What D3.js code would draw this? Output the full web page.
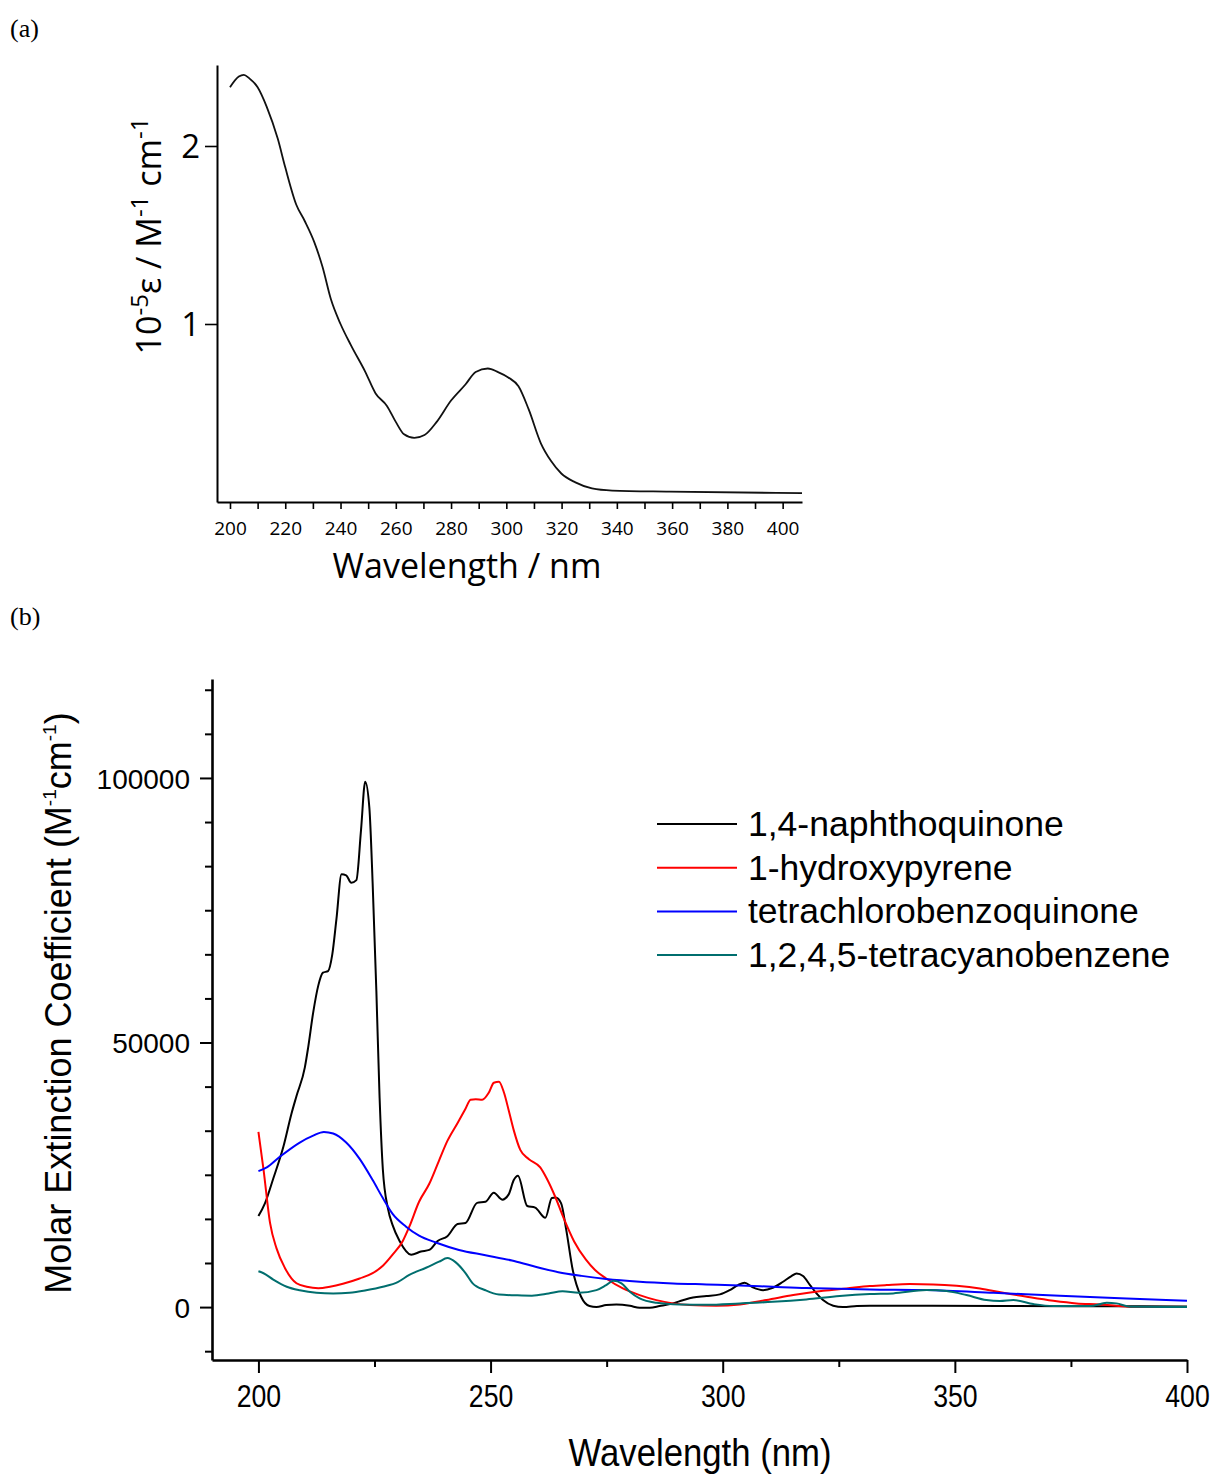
<!DOCTYPE html>
<html>
<head>
<meta charset="utf-8">
<script src="https://cdn.jsdelivr.net/npm/d3@7"></script>
<style>
  body { margin: 0; background: #fff; }
  svg { display: block; }
</style>
</head>
<body>
<svg id="chart"></svg>
<script>
// panel (a): single spectrum, 10^-5 epsilon
const wlA = [200, 203.2, 205, 207, 210, 213.3, 217.3, 220, 224, 227, 230.5, 233.5, 236.5, 240, 243.8, 249, 252.7, 256.8, 260, 263, 266.7, 270.4, 274.8, 280, 285.2, 288.9, 293.3, 297, 300.7, 304.4, 308.1, 312.5, 316.2, 319.9, 325, 331, 338.3, 359, 407];
const epsA = [2.33, 2.39, 2.40, 2.38, 2.33, 2.22, 2.04, 1.88, 1.67, 1.58, 1.46, 1.32, 1.14, 1.00, 0.88, 0.73, 0.61, 0.54, 0.45, 0.38, 0.36, 0.376, 0.45, 0.57, 0.66, 0.73, 0.75, 0.73, 0.70, 0.65, 0.52, 0.33, 0.23, 0.16, 0.11, 0.076, 0.064, 0.058, 0.05];

// panel (b): four spectra, molar extinction coefficient
const seriesNames = ["1,4-naphthoquinone", "1-hydroxypyrene", "tetrachlorobenzoquinone", "1,2,4,5-tetracyanobenzene"];
const seriesColors = ["#000000", "#ff0000", "#0000ff", "#006e6e"];

const wlNQ = [200, 201.4, 203.2, 205.4, 207.1, 208.2, 210, 210.7, 211.8, 212.9, 213.9, 215, 215.9, 216.8, 217.9, 218.9, 220, 221.1, 222.1, 223, 223.9, 224.6, 225.4, 226.1, 226.8, 227.9, 228.9, 230.4, 232.9, 235, 236.8, 238.6, 240.7, 242.9, 244.6, 247.1, 248.9, 250.7, 252.5, 253.9, 255, 255.9, 257.9, 259.6, 261.8, 263.2, 264, 265.2, 266.3, 267.7, 269.5, 271.3, 272.8, 274.9, 277.1, 280, 282.1, 284.3, 286.4, 289.3, 291.4, 293.6, 296.5, 299.4, 301.5, 303.3, 304.7, 306.5, 308.7, 310.8, 313, 314.8, 315.9, 317.3, 318.8, 320.2, 321.6, 323.8, 325.9, 328.9, 331.7, 345, 360, 375, 390, 400];
const epsNQ = [17200, 19600, 24300, 30400, 36500, 39900, 45300, 49000, 55700, 60800, 63200, 63500, 66600, 73300, 81800, 81600, 80200, 80700, 90200, 99300, 94300, 80100, 59800, 39500, 26000, 18600, 15500, 12500, 9900, 10500, 10800, 12500, 13400, 15700, 15900, 19700, 19900, 21600, 20300, 21300, 24000, 24800, 19100, 18800, 16900, 20600, 20700, 19600, 14600, 7000, 1950, 190, 0, 380, 500, 250, -130, -130, 190, 700, 1300, 1830, 2080, 2400, 3200, 4160, 4600, 3720, 3200, 3650, 4790, 5860, 6360, 5860, 4160, 2590, 1320, 250, 0, 190, 250, 250, 200, 180, 150, 100];

const wlHP = [200, 201.1, 202.5, 203.9, 205.7, 208.2, 210.4, 212.9, 215.4, 218.2, 221.8, 224.6, 226.8, 228.9, 231.1, 232.5, 234.6, 236.8, 238.9, 240.7, 242.9, 244.6, 245.7, 246.8, 248.2, 249.6, 250.7, 251.8, 252.9, 253.9, 255, 256.4, 258.2, 260.7, 262.1, 263.9, 265.7, 268, 270.5, 272.5, 274.9, 278.5, 282.1, 285.7, 289.3, 292.9, 298.6, 303.7, 309.4, 315.2, 321.6, 326.7, 331.7, 335.3, 340.3, 345.3, 350.4, 355.4, 360.4, 365.5, 371.2, 376.2, 381.3, 384.8, 388.4, 400];
const epsHP = [33100, 26000, 15900, 11100, 7400, 4500, 3850, 3580, 3850, 4400, 5400, 6400, 7800, 9900, 12500, 15200, 19900, 23300, 27700, 31400, 34800, 37500, 39200, 39300, 39200, 40500, 42400, 42600, 40500, 37200, 33400, 29700, 28000, 26400, 24300, 20900, 16900, 12400, 9000, 7000, 5400, 3530, 2270, 1320, 700, 380, 250, 500, 1320, 2270, 3080, 3530, 3970, 4160, 4350, 4290, 4030, 3530, 2700, 1950, 1190, 700, 500, 250, 0, 0];

const wlTC = [200, 201.8, 204.6, 208.9, 211.8, 214.1, 216.1, 218.9, 221.8, 224.6, 226.8, 228.9, 231.8, 234.6, 238.2, 243.2, 248.9, 254.6, 258.9, 264.6, 269.6, 274.9, 282.1, 289.3, 296.5, 303.7, 310.8, 318, 325.2, 331.7, 343.9, 358.3, 372.6, 387, 400];
const epsTC = [25700, 26400, 28400, 31100, 32400, 33100, 32800, 31100, 28000, 24000, 20600, 17600, 15200, 13500, 12200, 10800, 9800, 8800, 7800, 6600, 5900, 5300, 4790, 4480, 4290, 4100, 3840, 3590, 3460, 3340, 3210, 2700, 2140, 1640, 1190];

const wlCB = [200, 201.1, 203.2, 206.1, 208.9, 212.5, 216.1, 219.6, 223.2, 226.8, 230, 232.5, 236.1, 238.9, 240.7, 242.5, 244.6, 246.1, 248.9, 251.8, 255.4, 258.9, 262.5, 265.5, 269, 272.8, 274.9, 276.5, 278.2, 280, 282.1, 285.7, 290.7, 296.5, 303.7, 310.8, 318, 325.2, 331.7, 336.7, 343.9, 348.2, 352.5, 356.8, 359.7, 362.6, 366.9, 371.2, 379.1, 382.7, 384.8, 387.7, 400];
const epsCB = [6760, 6400, 5200, 3850, 3180, 2700, 2570, 2700, 3180, 3850, 4730, 6080, 7430, 8580, 9260, 8450, 6420, 4530, 3180, 2360, 2230, 2160, 2570, 3000, 2700, 3210, 4160, 4980, 4480, 2900, 1640, 810, 500, 440, 700, 1000, 1450, 2080, 2450, 2590, 3210, 3020, 2270, 1320, 1130, 1320, 570, 190, 190, 810, 700, 60, 0];

const wlB = [wlNQ, wlHP, wlTC, wlCB];
const epsB = [epsNQ, epsHP, epsTC, epsCB];

const xTicksA = d3.range(200, 401, 10);
const yTicksA = [1, 2];
const xTicksB = d3.range(200, 401, 25);
const yTicksB = d3.range(-1, 15).map(k => k * 50000 / 6);

const W = 1214, H = 1474;
const svg = d3.select("#chart").attr("width", W).attr("height", H);
svg.append("rect").attr("width", W).attr("height", H).attr("fill", "#fff");

const fontA = "'Open Sans', 'DejaVu Sans', sans-serif";
const fontB = "'Liberation Sans', Arial, sans-serif";

// panel letters
svg.append("text").attr("x", 10).attr("y", 37).text("(a)")
  .attr("font-family", "'Liberation Serif', 'Times New Roman', serif").attr("font-size", 26);
svg.append("text").attr("x", 10).attr("y", 625).text("(b)")
  .attr("font-family", "'Liberation Serif', 'Times New Roman', serif").attr("font-size", 26);

// ---------- panel (a) ----------
const xA = d3.scaleLinear().domain([195.3, 407]).range([217, 802]);
const yA = d3.scaleLinear().domain([0, 2.455]).range([502, 65]);
const gA = svg.append("g");

const axA_x = gA.append("g").attr("transform", "translate(0,502)")
  .call(d3.axisBottom(xA).tickValues(xTicksA).tickSize(7).tickSizeOuter(0).tickPadding(13)
    .tickFormat(d => d % 20 === 0 ? d : ""));
const axA_y = gA.append("g").attr("transform", "translate(217,0)")
  .call(d3.axisLeft(yA).tickValues(yTicksA).tickSize(12).tickSizeOuter(0).tickPadding(5)
    .tickFormat(d3.format("d")));

[axA_x, axA_y].forEach(ax => {
  ax.select(".domain").attr("stroke-width", 2);
  ax.selectAll(".tick line").attr("stroke-width", 1.6);
});
axA_x.selectAll("text").attr("font-family", fontA).attr("font-size", 19);
axA_y.selectAll("text").attr("font-family", fontA).attr("font-size", 33).attr("dy", "0.36em");

gA.append("path")
  .datum(d3.zip(wlA, epsA))
  .attr("fill", "none").attr("stroke", "#111").attr("stroke-width", 1.8)
  .attr("d", d3.line().x(d => xA(d[0])).y(d => yA(d[1])).curve(d3.curveMonotoneX));

gA.append("text").attr("x", 467).attr("y", 578).attr("text-anchor", "middle")
  .attr("font-family", fontA).attr("font-size", 34).text("Wavelength / nm");

const ytA = gA.append("text").attr("transform", "translate(161,236) rotate(-90)")
  .attr("text-anchor", "middle").attr("font-family", fontA).attr("font-size", 34);
ytA.append("tspan").text("10");
ytA.append("tspan").attr("dy", -13).attr("font-size", 24).text("-5");
ytA.append("tspan").attr("dy", 13).text("ε / M");
ytA.append("tspan").attr("dy", -13).attr("font-size", 24).text("-1");
ytA.append("tspan").attr("dy", 13).text(" cm");
ytA.append("tspan").attr("dy", -13).attr("font-size", 24).text("-1");

// ---------- panel (b) ----------
const xB = d3.scaleLinear().domain([190, 400]).range([212, 1187]);
const yB = d3.scaleLinear().domain([-10000, 118700]).range([1360, 679]);
const gB = svg.append("g");

const axB_x = gB.append("g").attr("transform", "translate(0,1360)")
  .call(d3.axisBottom(xB).tickValues(xTicksB).tickSize(13).tickSizeOuter(0).tickPadding(12)
    .tickFormat(d => d % 50 === 0 ? d : ""));
axB_x.selectAll(".tick").filter(d => d % 50 !== 0).select("line").attr("y2", 7);

const axB_y = gB.append("g").attr("transform", "translate(212,0)")
  .call(d3.axisLeft(yB).tickValues(yTicksB).tickSize(12).tickSizeOuter(0).tickPadding(10)
    .tickFormat(d => Math.abs(d % 50000) < 1 ? d3.format("d")(d) : ""));
axB_y.selectAll(".tick").filter(d => Math.abs(d % 50000) > 1).select("line").attr("x2", -7);

[axB_x, axB_y].forEach(ax => {
  ax.select(".domain").attr("stroke-width", 2.6);
  ax.selectAll(".tick line").attr("stroke-width", 2);
});
axB_x.selectAll("text").attr("font-family", fontB).attr("font-size", 31)
  .attr("transform", "scale(0.86,1)");
axB_y.selectAll("text").attr("font-family", fontB).attr("font-size", 28).attr("dy", "0.36em");

const lineB = d3.line().x(d => xB(d[0])).y(d => yB(d[1])).curve(d3.curveMonotoneX);
seriesNames.forEach((name, i) => {
  gB.append("path")
    .datum(d3.zip(wlB[i], epsB[i]))
    .attr("fill", "none").attr("stroke", seriesColors[i]).attr("stroke-width", 2)
    .attr("d", lineB);
});

// legend
const legend = gB.append("g").attr("transform", "translate(657,824)");
seriesNames.forEach((name, i) => {
  const row = legend.append("g").attr("transform", `translate(0,${i * 43.7})`);
  row.append("line").attr("x1", 0).attr("x2", 80).attr("y1", 0).attr("y2", 0)
    .attr("stroke", seriesColors[i]).attr("stroke-width", 2);
  row.append("text").attr("x", 91).attr("y", 12)
    .attr("font-family", fontB).attr("font-size", 35.5).text(name);
});

gB.append("text").attr("transform", "translate(700,1466) scale(0.89,1)")
  .attr("text-anchor", "middle").attr("font-family", fontB).attr("font-size", 39)
  .text("Wavelength (nm)");

const ytB = gB.append("text").attr("transform", "translate(71,1003) rotate(-90)")
  .attr("text-anchor", "middle").attr("font-family", fontB).attr("font-size", 36);
ytB.append("tspan").text("Molar Extinction Coefficient (M");
ytB.append("tspan").attr("dy", -15).attr("font-size", 19).text("-1");
ytB.append("tspan").attr("dy", 15).text("cm");
ytB.append("tspan").attr("dy", -15).attr("font-size", 19).text("-1");
ytB.append("tspan").attr("dy", 15).text(")");
</script>
</body>
</html>
